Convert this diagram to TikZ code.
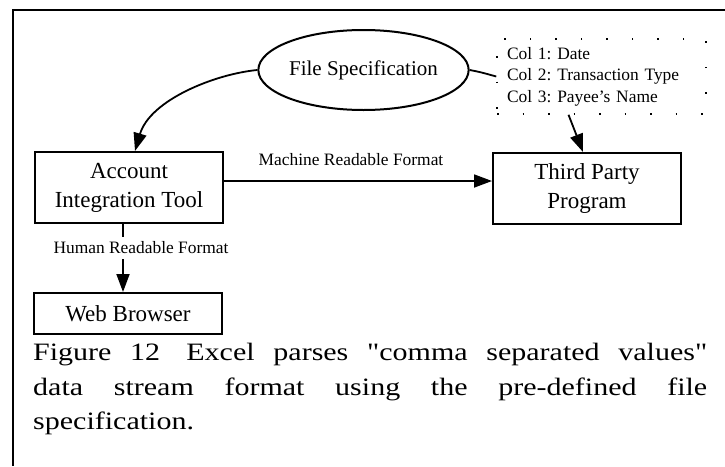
\documentclass[tikz,border=0pt]{standalone}
\usepackage{fontspec}
\setmainfont{Liberation Serif}
\newfontfamily\capfont[FakeStretch=1.2]{Liberation Serif}
\usetikzlibrary{shapes.geometric,arrows.meta}
\frenchspacing

\begin{document}
\begin{tikzpicture}[x=1pt,y=-1pt,
    box/.style={draw,line width=2pt,minimum width=188pt,inner sep=0pt,align=center,font=\fontsize{23}{29}\selectfont},
    flow/.style={line width=1.8pt,-{Triangle[length=18pt,width=13pt]}},
    lbl/.style={font=\fontsize{17.4}{21.5}\selectfont,inner sep=0pt}]
\useasboundingbox (0,0) rectangle (725,466);
% frame
\draw[line width=2pt] (725,10)--(13,10)--(13,466);

\node (spec) at (363.5,70)[ellipse,draw,line width=2pt,minimum width=179pt,minimum height=80pt,inner sep=0pt,font=\fontsize{21}{25}\selectfont] {File Specification};
\node (cols) at (601.5,76.5)[lbl,draw,dash pattern=on 1.5pt off 24pt,line width=1.5pt,text width=189pt,inner xsep=10pt,minimum height=75pt,align=left] {Col 1: Date\\Col 2: Transaction Type\\Col 3: Payee's Name};

\node (ait) at (129,187.5)[box,minimum height=71pt] {Account\\Integration Tool};
\node (tpp) at (587,188.5)[box,minimum height=71pt] {Third Party\\Program};
\node (web) at (128,313.5)[box,minimum height=41pt] {Web Browser};

\draw[flow] (spec.west) .. controls (215,74) and (150,100) .. ([xshift=6pt]ait.north);
\draw[line width=1.8pt] (spec.east) .. controls (480,72) .. (cols.west);
\draw[flow] ([xshift=-33pt]cols.south) -- ([xshift=-4pt]tpp.north);
\draw[flow] ([yshift=6.5pt]ait.east) -- ([yshift=7.5pt]tpp.west)
    node[lbl,midway,above=14pt,xshift=-7pt] {Machine Readable Format};
\draw[flow] ([xshift=-6pt]ait.south) -- ([xshift=-5pt]web.north)
    node[lbl,midway,fill=white,inner ysep=5pt,xshift=18pt,yshift=10pt] {Human Readable Format};

% caption
\node (cap) at (33,343)[anchor=north west,text width=674pt,inner sep=0pt,align=justify,font=\capfont\fontsize{25}{34.5}\selectfont] {Figure 12\hspace{.3em} Excel parses "comma separated values"\linebreak data stream format using the pre-defined file\linebreak specification.};
\end{tikzpicture}
\end{document}
